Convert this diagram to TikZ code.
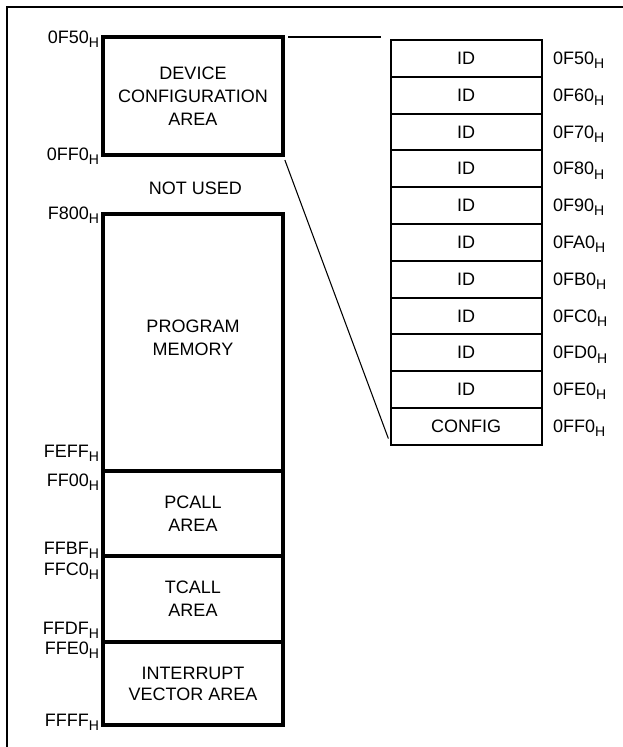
\documentclass[tikz,border=0pt]{standalone}
\usepackage{fontspec}
\setmainfont{Liberation Sans}
\usepackage{tikz}
\usetikzlibrary{positioning,calc}
\newcommand{\hexa}[1]{#1\raisebox{-0.45ex}{\fontsize{10.5}{10.5}\selectfont H}}

\begin{document}
\begin{tikzpicture}[x=0.75pt, y=-0.75pt,
    every node/.style={font=\fontsize{13.5}{17.3}\selectfont, inner sep=0pt, outer sep=0pt},
    area/.style={draw, line width=2.3pt, minimum width=135pt, align=center},
    cell/.style={draw, line width=1.5pt, minimum width=113.25pt, minimum height=27.6pt},
    addrl/.style={anchor=base east},
    addrr/.style={anchor=base west},
    link/.style={line width=0.8pt}]
      \useasboundingbox (0,0) rectangle (623,747);
      \draw[line width=1.5pt] (623,7) -- (7,7) -- (7,747);
      % left memory map
      \node[area, minimum height=88.5pt]   (dca)    at (193,96)    {DEVICE\\CONFIGURATION\\AREA};
      \node                                (notused) at (195.5,188) {NOT USED};
      \node[area, minimum height=192.75pt] (prog)   at (193,342.5) {PROGRAM\\MEMORY\\[-9.8pt]};
      \node[area, minimum height=63.75pt]  (pcall)  at (193,513.5) {PCALL\\AREA};
      \node[area, minimum height=64.5pt]   (tcall)  at (193,599)   {TCALL\\AREA};
      \node[area, minimum height=62.25pt, font=\fontsize{13.5}{15.8}\selectfont]
                                           (intvec) at (193,683.5) {INTERRUPT\\VECTOR AREA};
      \node[addrl] (a1)  at (99,43.5) {\hexa{0F50}};
      \node[addrl] (a2)  at (99,160)  {\hexa{0FF0}};
      \node[addrl] (a3)  at (99,219)  {\hexa{F800}};
      \node[addrl] (a4)  at (99,457)  {\hexa{FEFF}};
      \node[addrl] (a5)  at (99,486)  {\hexa{FF00}};
      \node[addrl] (a6)  at (99,554)  {\hexa{FFBF}};
      \node[addrl] (a7)  at (99,575)  {\hexa{FFC0}};
      \node[addrl] (a8)  at (99,634)  {\hexa{FFDF}};
      \node[addrl] (a9)  at (99,654)  {\hexa{FFE0}};
      \node[addrl] (a10) at (99,726)  {\hexa{FFFF}};
      % configuration area detail
      \foreach \txt/\adr [count=\i] in {ID/0F50,ID/0F60,ID/0F70,ID/0F80,ID/0F90,ID/0FA0,ID/0FB0,ID/0FC0,ID/0FD0,ID/0FE0,CONFIG/0FF0} {
        \node[cell]  (row\i) at (466.2,{21.6+36.8*\i})  {\txt};
        \node[addrr] (r\i)   at (553,{27.6+36.8*\i})    {\hexa{\adr}};
      }
      \draw[link, shorten <=4pt, shorten >=7pt] (dca.north east) -- (dca.north east -| row1.west);
      \draw[link, shorten <=4pt, shorten >=5pt] (dca.south east) -- (row11.south west);
\end{tikzpicture}
\end{document}
